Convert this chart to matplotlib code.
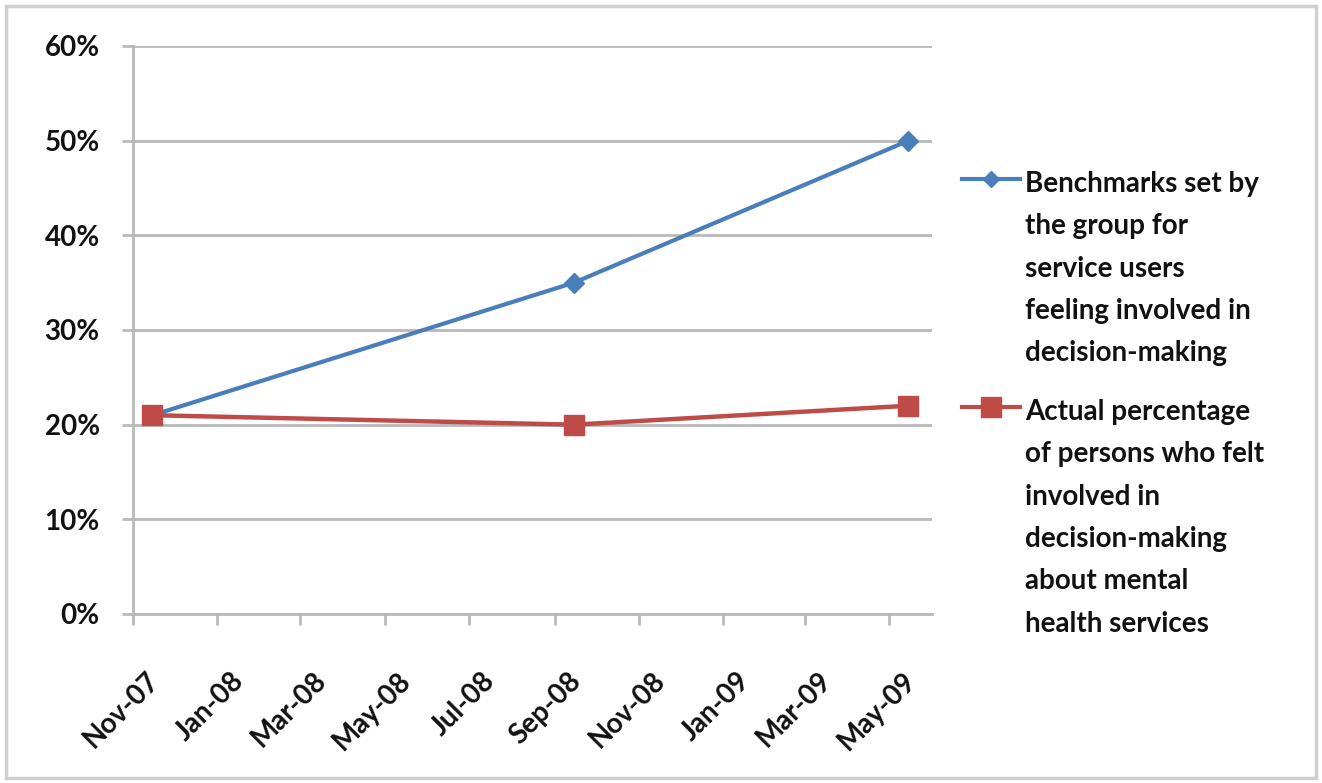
import matplotlib
matplotlib.use("Agg")
import matplotlib.pyplot as plt
import matplotlib.dates as mdates
import matplotlib.transforms as mtransforms
from matplotlib.lines import Line2D
from matplotlib.patches import Rectangle
import pandas as pd

# Survey dates and percentages
dates = ["2007-11-15", "2008-09-15", "2009-05-15"]
benchmark = [0.21, 0.35, 0.50]
actual = [0.21, 0.20, 0.22]

benchmark_label = ["Benchmarks set by", "the group for", "service users",
                   "feeling involved in", "decision-making"]
actual_label = ["Actual percentage", "of persons who felt", "involved in",
                "decision-making", "about mental", "health services"]

x_start, x_end = "2007-11-01", "2009-06-01"
y_ticks = [0, 0.1, 0.2, 0.3, 0.4, 0.5, 0.6]

BLUE = "#4a7ebb"
RED = "#be4b48"
GRID = "#b9b9b9"
TEXT = "#111111"

plt.rcParams["font.family"] = ["Lato", "DejaVu Sans"]
plt.rcParams["font.weight"] = "bold"

W, H = 1322, 783
fig = plt.figure(figsize=(W / 100, H / 100), dpi=100)
fig.patch.set_facecolor("white")

# chart-area border
fig.patches.append(Rectangle((6 / W, 5 / H), 1 - 12 / W, 1 - 11 / H,
                             transform=fig.transFigure, fill=False,
                             edgecolor="#cfcfcf", linewidth=2.5))

ax = fig.add_axes([133 / W, 1 - 614 / H, (932 - 133) / W, (614 - 46) / H])

x = pd.to_datetime(dates)
ax.plot(x, benchmark, color=BLUE, lw=3, marker="D", ms=10.5,
        markerfacecolor=BLUE, markeredgecolor=BLUE, zorder=3)
ax.plot(x, actual, color=RED, lw=3.2, marker="s", ms=14,
        markerfacecolor=RED, markeredgecolor=RED, zorder=3)

ax.set_xlim(pd.Timestamp(x_start), pd.Timestamp(x_end))
ax.set_ylim(0, 0.6)
ax.set_yticks(y_ticks)
ax.set_yticklabels([f"{int(round(v * 100))}%" for v in y_ticks])

ax.xaxis.set_major_locator(mdates.MonthLocator(bymonth=[1, 3, 5, 7, 9, 11]))
ax.xaxis.set_major_formatter(mdates.DateFormatter("%b-%y"))

ax.grid(axis="y", color=GRID, lw=2)
ax.set_axisbelow(True)
for side in ("top", "right"):
    ax.spines[side].set_visible(False)
for side in ("left", "bottom"):
    ax.spines[side].set_color(GRID)
    ax.spines[side].set_linewidth(2)

ax.tick_params(axis="y", length=8, width=2, color=GRID, pad=16,
               labelsize=20, labelcolor=TEXT)
ax.tick_params(axis="x", length=8, width=2, color=GRID, pad=37,
               labelsize=20, labelcolor=TEXT)

offset = mtransforms.ScaledTranslation(22 / 100, 0, fig.dpi_scale_trans)
for lbl in ax.get_xticklabels():
    lbl.set_rotation(45)
    lbl.set_ha("right")
    lbl.set_va("center")
    lbl.set_rotation_mode("anchor")
    lbl.set_transform(lbl.get_transform() + offset)

# legend, drawn beside the plot
def legend_entry(y_px, color, marker, ms, lines):
    y = 1 - y_px / H
    fig.add_artist(Line2D([962 / W, 1020 / W], [y, y], transform=fig.transFigure,
                          color=color, lw=3, marker=None))
    fig.add_artist(Line2D([991 / W], [y], transform=fig.transFigure,
                          color=color, marker=marker, ms=ms, lw=0))
    for i, line in enumerate(lines):
        fig.text(1025 / W, 1 - (y_px + 5 + i * 42.3) / H, line, fontsize=20,
                 color=TEXT, ha="left", va="center")

legend_entry(179, BLUE, "D", 8.5, benchmark_label)
legend_entry(407, RED, "s", 14, actual_label)

fig.savefig("out.png", dpi=100, facecolor="white")
